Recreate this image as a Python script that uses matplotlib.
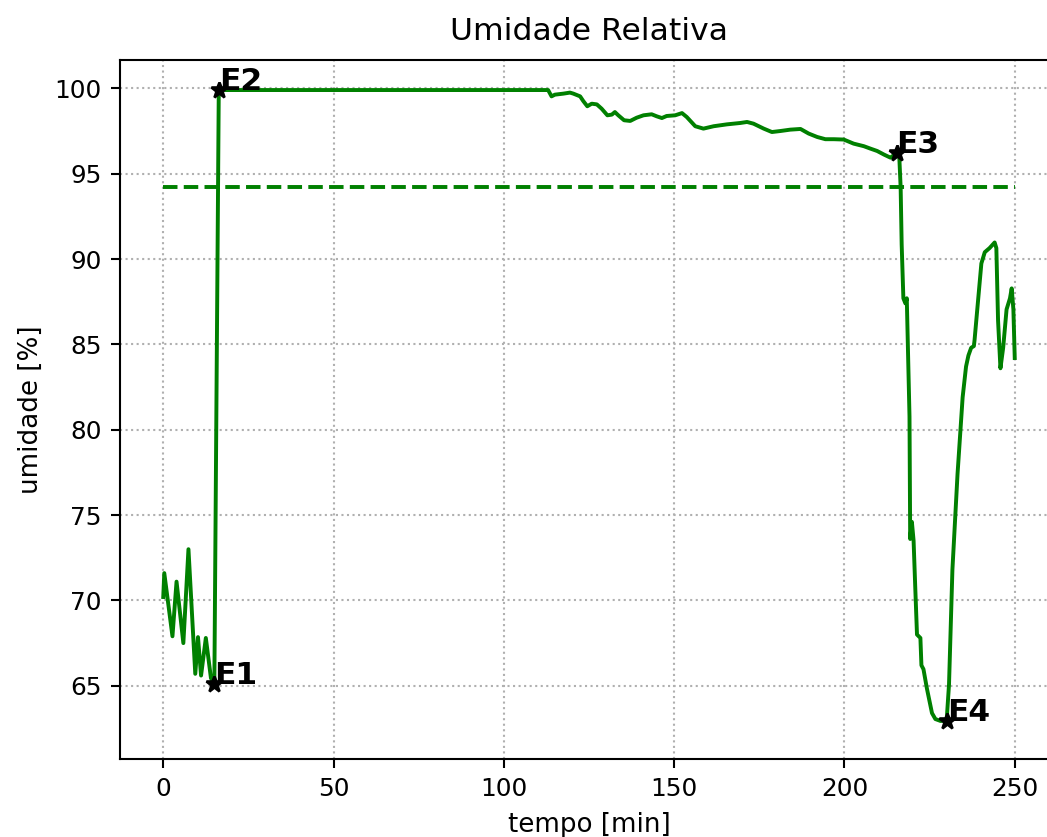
import matplotlib
matplotlib.use("Agg")
import matplotlib.pyplot as plt

# ---- data ----
tempo = [0.0, 0.3, 2.7, 3.9, 5.9, 7.4, 9.4, 10.2, 11.1, 12.5, 14.0, 15.0, 16.3,
         30.0, 60.0, 90.0, 113.0, 114.0, 115.0, 117.5, 119.4, 120.4, 122.4, 123.3,
         124.5, 125.8, 127.3, 128.7, 130.4, 131.7, 132.6, 133.6, 135.3, 137.1,
         139.0, 141.0, 143.4, 144.9, 146.4, 147.8, 150.3, 152.3, 153.7, 156.2,
         158.6, 161.6, 165.5, 169.4, 171.4, 173.3, 176.3, 178.7, 181.2, 184.1,
         187.1, 189.5, 192.0, 194.4, 196.9, 199.8, 202.7, 205.7, 207.6, 209.6,
         211.6, 213.5, 215.3, 216.1, 216.5, 216.8, 217.3, 217.9, 218.3, 219.1,
         219.3, 219.8, 220.3, 220.8, 221.3, 222.3, 222.6, 223.2, 224.2, 225.7,
         226.7, 228.2, 230.0, 230.7, 231.7, 233.2, 234.7, 235.7, 236.4, 237.2,
         238.0, 238.2, 239.2, 240.2, 241.2, 242.6, 244.1, 244.6, 245.1, 245.8,
         246.6, 247.6, 248.6, 249.1, 249.6, 250.0]
umidade = [70.2, 71.6, 67.9, 71.1, 67.5, 73.0, 65.7, 67.85, 65.6, 67.8, 65.45, 65.1, 99.9,
           99.9, 99.9, 99.9, 99.9, 99.53, 99.63, 99.69, 99.75, 99.69, 99.53, 99.26,
           98.95, 99.1, 99.06, 98.81, 98.42, 98.46, 98.61, 98.42, 98.13, 98.09,
           98.28, 98.42, 98.48, 98.36, 98.26, 98.38, 98.42, 98.55, 98.32, 97.78,
           97.64, 97.78, 97.89, 97.97, 98.03, 97.93, 97.64, 97.44, 97.5, 97.58,
           97.62, 97.35, 97.15, 97.02, 97.02, 97.0, 96.76, 96.61, 96.47, 96.33,
           96.12, 95.94, 96.2, 96.0, 94.2, 90.86, 87.7, 87.4, 87.7, 80.77,
           73.6, 74.6, 73.5, 70.7, 68.0, 67.8, 66.2, 65.97, 64.85, 63.4,
           63.05, 62.94, 62.95, 65.07, 71.8, 77.4, 81.9, 83.7, 84.35, 84.8,
           84.9, 85.25, 87.5, 89.74, 90.4, 90.64, 90.97, 90.64, 86.4, 83.6,
           84.8, 87.05, 87.7, 88.28, 87.05, 84.2]

media = 94.2
media_t = [0.0, 250.0]

eventos = ["E1", "E2", "E3", "E4"]
eventos_t = [15.0, 16.3, 215.3, 230.0]
eventos_u = [65.1, 99.9, 96.2, 62.95]

xticks = [0, 50, 100, 150, 200, 250]
yticks = [65, 70, 75, 80, 85, 90, 95, 100]

# ---- figure ----
DPI = 188
fig = plt.figure(figsize=(1047 / DPI, 837 / DPI), dpi=DPI)
ax = fig.add_axes([120 / 1047, 1 - 759 / 837, (1058 - 120) / 1047, (759 - 60) / 837])

ax.plot(tempo, umidade, color="green", linewidth=1.5)
ax.plot(media_t, [media, media], color="green", linestyle="--", linewidth=1.5)
ax.plot(eventos_t, eventos_u, "k*", markersize=6.5, linestyle="none")
for nome, t, u in zip(eventos, eventos_t, eventos_u):
    ax.text(t, u, nome, fontsize=12, fontweight="bold", ha="left", va="baseline")

ax.set_xlim(-12.7, 262.7)
ax.set_ylim(60.71, 101.66)
ax.set_xticks(xticks)
ax.set_yticks(yticks)
ax.tick_params(labelsize=9.5)
ax.grid(True, linestyle=":")
ax.set_title("Umidade Relativa", fontsize=12, pad=7.5)
ax.set_xlabel("tempo [min]", fontsize=10)
ax.set_ylabel("umidade [%]", fontsize=10)

fig.savefig("out.png", dpi=DPI)
